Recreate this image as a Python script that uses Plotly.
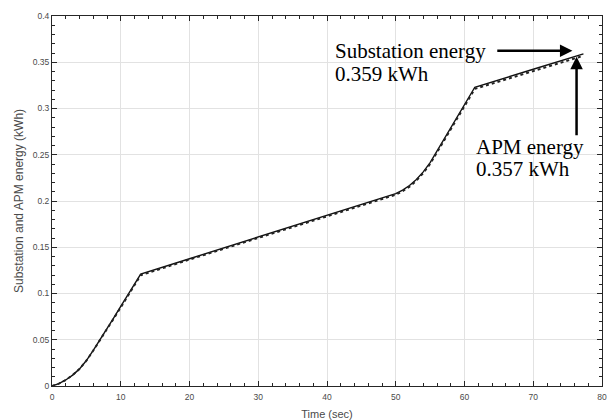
import plotly.graph_objects as go

# Time (s)
time_s = [0, 1, 2, 3, 4, 5, 6, 7, 8, 9, 10, 11, 12, 12.9, 20, 30, 40, 49,
          50, 51, 52, 53, 54, 55, 56, 57, 58, 59, 60, 61.5, 70, 77.3]

# Substation energy (kWh)
substation_kwh = [0, 0.0025, 0.0065, 0.0118, 0.0185, 0.0275, 0.0385, 0.050,
                  0.062, 0.074, 0.086, 0.098, 0.110, 0.121, 0.1376, 0.1610,
                  0.1844, 0.2052, 0.2080, 0.2118, 0.2168, 0.2233, 0.2315,
                  0.2415, 0.2540, 0.2665, 0.2790, 0.2915, 0.3040, 0.3230,
                  0.3424, 0.359]

# APM energy (kWh)
apm_kwh = [0, 0.0025, 0.0065, 0.0118, 0.0184, 0.0274, 0.0383, 0.0496,
           0.0614, 0.0732, 0.0850, 0.0969, 0.1088, 0.1198, 0.1367, 0.1600,
           0.1832, 0.2040, 0.2068, 0.2106, 0.2155, 0.2220, 0.2302, 0.2401,
           0.2525, 0.2650, 0.2774, 0.2899, 0.3023, 0.3212, 0.3404, 0.357]

x_title = "Time (sec)"
y_title = "Substation and APM energy (kWh)"
sub_label = ["Substation energy", "0.359 kWh"]
apm_label = ["APM energy", "0.357 kWh"]

fig = go.Figure()
fig.add_trace(go.Scatter(x=time_s, y=substation_kwh, mode="lines",
                         line=dict(color="#111111", width=1.4), name="Substation"))
fig.add_trace(go.Scatter(x=time_s, y=apm_kwh, mode="lines",
                         line=dict(color="#222222", width=2, dash="dot"), name="APM"))

axis_common = dict(
    ticks="inside", ticklen=5, tickwidth=1, tickcolor="#262626",
    showline=True, linecolor="#262626", linewidth=1, mirror="allticks",
    showgrid=True, gridcolor="#e2e2e2", gridwidth=1, zeroline=False,
    automargin=False,
    tickfont=dict(family="Liberation Sans, Arial", size=8.5, color="#4a4a4a"),
)

fig.update_xaxes(range=[0, 80], tick0=0, dtick=10, ticklabelstandoff=3,
                 minor=dict(dtick=2, ticks="inside", ticklen=3, tickcolor="#262626", showgrid=False),
                 title=dict(text=x_title, font=dict(family="Liberation Sans, Arial", size=11, color="#4a4a4a"),
                            standoff=14),
                 **axis_common)
fig.update_yaxes(range=[0, 0.4], tick0=0, dtick=0.05,
                 minor=dict(dtick=0.01, ticks="inside", ticklen=3, tickcolor="#262626", showgrid=False),
                 title=dict(text=y_title, font=dict(family="Liberation Sans, Arial", size=12, color="#4a4a4a"),
                            standoff=6),
                 **axis_common)

serif = dict(family="Liberation Serif, Times New Roman", size=21, color="black")
for txt, yv in zip(sub_label, [0.3625, 0.3373]):
    fig.add_annotation(x=40.95, y=yv, xref="x", yref="y", text=txt, showarrow=False,
                       xanchor="left", yanchor="middle", font=serif, borderpad=0)
for txt, yv in zip(apm_label, [0.2587, 0.2343]):
    fig.add_annotation(x=61.5, y=yv, xref="x", yref="y", text=txt, showarrow=False,
                       xanchor="left", yanchor="middle", font=serif, borderpad=0)

# arrows
fig.add_annotation(x=75.7, y=0.3625, ax=64.55, ay=0.3625, xref="x", yref="y",
                   axref="x", ayref="y", text="", showarrow=True,
                   arrowhead=2, arrowsize=1, arrowwidth=2.5, arrowcolor="black")
fig.add_annotation(x=76.3, y=0.356, ax=76.3, ay=0.2695, xref="x", yref="y",
                   axref="x", ayref="y", text="", showarrow=True,
                   arrowhead=2, arrowsize=1, arrowwidth=2.5, arrowcolor="black")

fig.update_layout(width=612, height=420, showlegend=False,
                  margin=dict(l=52, r=10, t=16, b=34),
                  plot_bgcolor="white", paper_bgcolor="white")

fig.write_html("out.html", config={"displayModeBar": False},
               post_script="document.body.style.margin='0';document.body.style.overflow='hidden';")
